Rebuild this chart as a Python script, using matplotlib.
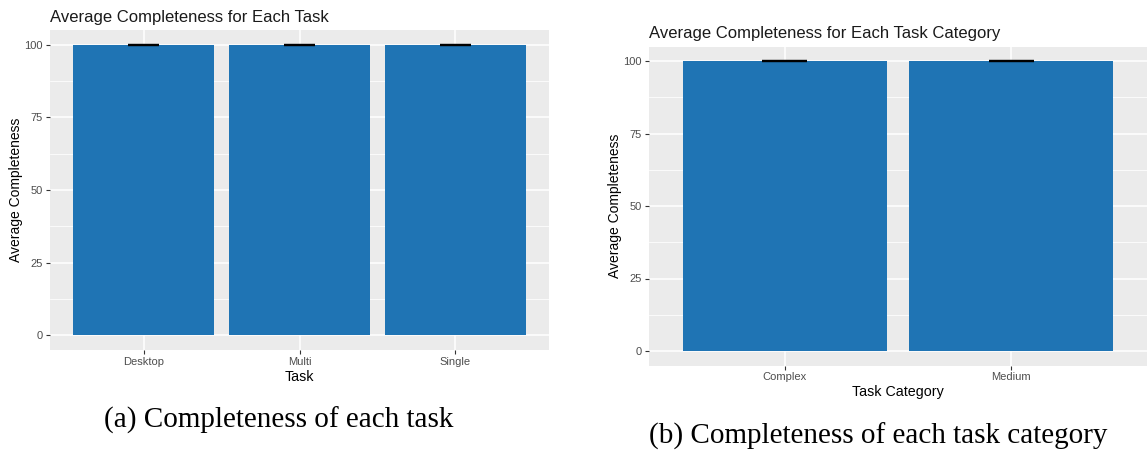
import numpy as np
import matplotlib.pyplot as plt
from matplotlib.ticker import MultipleLocator

# Average completeness per task and per task category
tasks = ["Desktop", "Multi", "Single"]
task_means = [100, 100, 100]
task_errors = [0, 0, 0]

categories = ["Complex", "Medium"]
category_means = [100, 100]
category_errors = [0, 0]

W, H = 1147, 455
BAR_COLOR = "#1f74b4"
PANEL_BG = "#ebebeb"


def px_axes(fig, x0, y0, x1, y1):
    """Add axes from pixel coordinates (top-left origin)."""
    return fig.add_axes([x0 / W, (H - y1) / H, (x1 - x0) / W, (y1 - y0) / H])


def gg_bar(ax, labels, means, errors, xlabel, title):
    pos = np.arange(1, len(labels) + 1)
    ax.set_facecolor(PANEL_BG)
    for s in ax.spines.values():
        s.set_visible(False)

    ax.bar(pos, means, width=0.9, color=BAR_COLOR, zorder=3)
    ax.errorbar(pos, means, yerr=errors, fmt="none", ecolor="black",
                elinewidth=1.2, capsize=0, zorder=4)
    # cap lines of the error bars (0.2 wide in data units)
    for p, m, e in zip(pos, means, errors):
        ax.hlines([m - e, m + e], p - 0.1, p + 0.1, colors="black",
                  linewidth=1.6, zorder=4)

    ax.set_xlim(0.4, len(labels) + 0.6)
    ax.set_ylim(-5, 105)
    ax.set_xticks(pos)
    ax.set_xticklabels(labels)
    ax.yaxis.set_major_locator(MultipleLocator(25))
    ax.yaxis.set_minor_locator(MultipleLocator(12.5))
    ax.grid(which="major", color="white", linewidth=1.1, zorder=0)
    ax.grid(which="minor", axis="y", color="white", linewidth=0.55, zorder=0)
    ax.set_axisbelow(True)
    ax.tick_params(which="major", length=3, width=0.8, color="#333333",
                   labelcolor="#4d4d4d", labelsize=8, pad=2)
    ax.tick_params(which="minor", length=0)

    ax.set_xlabel(xlabel, fontsize=10.3, color="black", labelpad=2)
    ax.set_ylabel("Average Completeness", fontsize=10, color="black", labelpad=1)
    ax.set_title(title, fontsize=12, loc="left", pad=6, color="#1a1a1a")


plt.rcParams["font.family"] = ["Liberation Sans", "DejaVu Sans"]
fig = plt.figure(figsize=(W / 100, H / 100), dpi=100)

ax1 = px_axes(fig, 50, 30, 549, 350)
gg_bar(ax1, tasks, task_means, task_errors, "Task",
       "Average Completeness for Each Task")

ax2 = px_axes(fig, 649, 46.5, 1147, 365.5)
gg_bar(ax2, categories, category_means, category_errors, "Task Category",
       "Average Completeness for Each Task Category")

fig.text(279 / W, 1 - 420 / H, "(a) Completeness of each task",
         family="Liberation Serif", fontsize=21, ha="center", va="center")
fig.text(878 / W, 1 - 436 / H, "(b) Completeness of each task category",
         family="Liberation Serif", fontsize=21, ha="center", va="center")

fig.savefig("out.png", dpi=100)
